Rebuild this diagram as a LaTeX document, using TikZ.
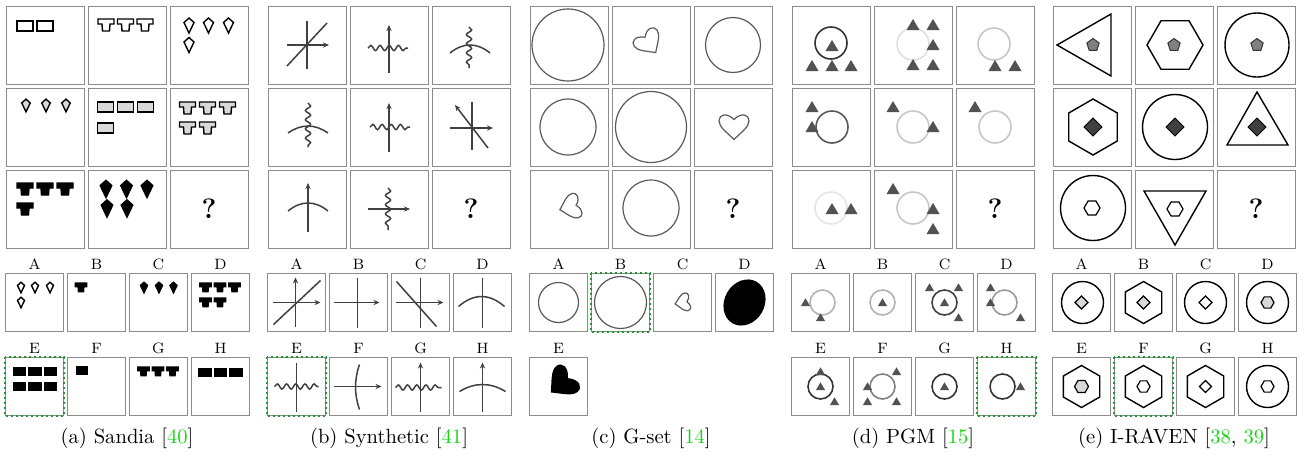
\documentclass[tikz,border=0pt]{standalone}
\usetikzlibrary{arrows.meta,decorations.pathmorphing}
\definecolor{hlgreen}{RGB}{30,150,50}
\definecolor{citegreen}{RGB}{20,215,20}
\definecolor{cellgray}{RGB}{140,140,140}
%% the little shapes, drawn with whatever the \pic is given
\tikzset{
	brick/.pic={\path[pic actions] (-8,-5) rectangle (8,5);},
	tee/.pic={\path[pic actions] (-8,0) -- (8,0) -- (8,5) -- (4,5) -- (3.5,12) -- (-3.5,12) -- (-4,5) -- (-8,5) -- cycle;},
	kite/.pic={\path[pic actions] (0,-7.5) -- (5,-3) -- (0,7.5) -- (-5,-3) -- cycle;},
	heart/.pic={\path[pic actions] (0,10) .. controls (-6,4) and (-12,0) .. (-12,-5) .. controls (-12,-10) and (-6,-12) .. (0,-6) .. controls (6,-12) and (12,-10) .. (12,-5) .. controls (12,0) and (6,4) .. (0,10) -- cycle;},
	tria/.pic={\path[pic actions] (0,-6) -- (6.5,5) -- (-6.5,5) -- cycle;},
	pent/.pic={\path[pic actions] (-90:1) -- (-18:1) -- (54:1) -- (126:1) -- (198:1) -- cycle;},
	hexf/.pic={\path[pic actions] (0:1) -- (60:1) -- (120:1) -- (180:1) -- (240:1) -- (300:1) -- cycle;},
	hexp/.pic={\path[pic actions] (30:1) -- (90:1) -- (150:1) -- (210:1) -- (270:1) -- (330:1) -- cycle;},
	diam/.pic={\path[pic actions] (0:1) -- (90:1) -- (180:1) -- (270:1) -- cycle;}
}
\begin{document}
\begin{tikzpicture}%
	[x=0.5pt, y=-0.5pt,
	cell/.style={draw=cellgray, line width=0.5pt, minimum width=39pt, minimum height=39pt, inner sep=0pt},
	ans/.style={cell, minimum width=29pt, minimum height=29pt},
	lab/.style={font=\fontsize{7.5}{9}\selectfont, inner sep=1.5pt},
	qmark/.style={font=\fontsize{14}{16}\selectfont\bfseries, inner sep=0pt},
	capt/.style={font=\fontsize{10.3}{12}\selectfont, inner sep=0pt},
	correct/.style={draw=hlgreen, line width=1.4pt, dash pattern=on 1.2pt off 1.3pt},
	openshape/.style={draw=black, fill=white, line width=0.7pt},
	greyshape/.style={draw=black, fill=black!15, line width=0.7pt},
	blackshape/.style={draw=black, fill=black, line width=0.7pt},
	sline/.style={draw=black!75, line width=0.75pt},
	arr/.style={sline, -{Stealth[length=3pt,width=2.6pt]}},
	wave/.style={sline, decorate, decoration={snake, segment length=4.6pt, amplitude=1.3pt}},
	gline/.style={draw=black!65, line width=0.6pt},
	ring/.style={line width=0.8pt},
	pgmtri/.style={fill=black!68},
	rframe/.style={draw=black, line width=0.7pt},
	pentshape/.style={draw=black!80, fill=black!50, line width=0.5pt},
	darkdiam/.style={draw=black, fill=black!75, line width=0.5pt},
	lightshape/.style={draw=black, fill=black!15, line width=0.6pt},
	whiteshape/.style={draw=black, fill=white, line width=0.6pt}]
%
\useasboundingbox (0,0) rectangle (1304,456);
%%
%% the 3x3 grids and the answer cells
%%
\foreach \p/\px in {a/5,b/267,c/529,d/791,e/1052}
	\foreach \r in {1,2,3}
		\foreach \c in {1,2,3}
			\node[cell] (\p\r\c) at ({\px+40+82*(\c-1)},{45+82*(\r-1)}) {};
\foreach \p/\px in {a/5,b/267,d/791,e/1052}
	\foreach \l/\c/\r in {A/0/0,B/1/0,C/2/0,D/3/0,E/0/1,F/1/1,G/2/1,H/3/1}
		\node[ans, label={[lab]above:\l}] (\p\l) at ({\px+29.5+62*\c},{302.5+84*\r}) {};
\foreach \l/\c/\r in {A/0/0,B/1/0,C/2/0,D/3/0,E/0/1}
	\node[ans, label={[lab]above:\l}] (c\l) at ({558.5+62*\c},{302.5+84*\r}) {};
\node[qmark] (aq) at (a33) {?};
\node[qmark] (bq) at (b33) {?};
\node[qmark] (cq) at (c33) {?};
\node[qmark] (dq) at (d33) {?};
\node[qmark] (eq) at (e33) {?};
%%
%% (a) Sandia
%%
\begin{scope}[shift={(a11.center)}]
\pic[openshape] at (-20,-19) {brick};
\pic[openshape] at (0,-19) {brick};
\end{scope}
\begin{scope}[shift={(a12.center)}]
\pic[openshape] at (-21,-26) {tee};
\pic[openshape] at (-1.5,-26) {tee};
\pic[openshape] at (18,-26) {tee};
\end{scope}
\begin{scope}[shift={(a13.center)}]
\pic[openshape] at (-20,-19.5) {kite};
\pic[openshape] at (-0.5,-19.5) {kite};
\pic[openshape] at (19.5,-19.5) {kite};
\pic[openshape] at (-20,0) {kite};
\end{scope}
\begin{scope}[shift={(a21.center)}]
\pic[greyshape, scale=.85] at (-19,-21.5) {kite};
\pic[greyshape, scale=.85] at (1,-21.5) {kite};
\pic[greyshape, scale=.85] at (21,-21.5) {kite};
\end{scope}
\begin{scope}[shift={(a22.center)}]
\pic[greyshape] at (-21.5,-20) {brick};
\pic[greyshape] at (-1.5,-20) {brick};
\pic[greyshape] at (18.5,-20) {brick};
\pic[greyshape] at (-21.5,1) {brick};
\end{scope}
\begin{scope}[shift={(a23.center)}]
\pic[greyshape] at (-21.5,-25) {tee};
\pic[greyshape] at (-1.5,-25) {tee};
\pic[greyshape] at (18.5,-25) {tee};
\pic[greyshape] at (-21.5,-5) {tee};
\pic[greyshape] at (-1.5,-5) {tee};
\end{scope}
\begin{scope}[shift={(a31.center)}]
\pic[blackshape] at (-20,-26) {tee};
\pic[blackshape] at (0,-26) {tee};
\pic[blackshape] at (20,-26) {tee};
\pic[blackshape] at (-20,-6) {tee};
\end{scope}
\begin{scope}[shift={(a32.center)}]
\pic[blackshape, scale=1.15] at (-21,-20) {kite};
\pic[blackshape, scale=1.15] at (-0.5,-20) {kite};
\pic[blackshape, scale=1.15] at (20,-20) {kite};
\pic[blackshape, scale=1.15] at (-20,-0.5) {kite};
\pic[blackshape, scale=1.15] at (0,-0.5) {kite};
\end{scope}
%% answers
\begin{scope}[shift={(aA.center)}]
\pic[openshape, scale=.7] at (-13.5,-15) {kite};
\pic[openshape, scale=.7] at (0.5,-15) {kite};
\pic[openshape, scale=.7] at (15.5,-15) {kite};
\pic[openshape, scale=.7] at (-13.5,0) {kite};
\end{scope}
\begin{scope}[shift={(aB.center)}]
\pic[blackshape, scale=.72] at (-15.5,-19.5) {tee};
\end{scope}
\begin{scope}[shift={(aC.center)}]
\pic[blackshape, scale=.7] at (-14.5,-15) {kite};
\pic[blackshape, scale=.7] at (0.5,-15) {kite};
\pic[blackshape, scale=.7] at (15,-15) {kite};
\end{scope}
\begin{scope}[shift={(aD.center)}]
\pic[blackshape, scale=.72] at (-15,-19.5) {tee};
\pic[blackshape, scale=.72] at (-0.5,-19.5) {tee};
\pic[blackshape, scale=.72] at (14,-19.5) {tee};
\pic[blackshape, scale=.72] at (-15,-4.5) {tee};
\pic[blackshape, scale=.72] at (-0.5,-4.5) {tee};
\end{scope}
\begin{scope}[shift={(aE.center)}]
\pic[blackshape, scale=.76] at (-15,-15.5) {brick};
\pic[blackshape, scale=.76] at (0.5,-15.5) {brick};
\pic[blackshape, scale=.76] at (16,-15.5) {brick};
\pic[blackshape, scale=.76] at (-15,0) {brick};
\pic[blackshape, scale=.76] at (0.5,0) {brick};
\pic[blackshape, scale=.76] at (16,0) {brick};
\end{scope}
\begin{scope}[shift={(aF.center)}]
\pic[blackshape, scale=.7] at (-14.5,-16) {brick};
\end{scope}
\begin{scope}[shift={(aG.center)}]
\pic[blackshape, scale=.72] at (-15,-19.5) {tee};
\pic[blackshape, scale=.72] at (-0.5,-19.5) {tee};
\pic[blackshape, scale=.72] at (14,-19.5) {tee};
\end{scope}
\begin{scope}[shift={(aH.center)}]
\pic[blackshape, scale=.78] at (-15.5,-14) {brick};
\pic[blackshape, scale=.78] at (0,-14) {brick};
\pic[blackshape, scale=.78] at (15.5,-14) {brick};
\end{scope}
%%
%% (b) Synthetic
%%
\begin{scope}[shift={(b11.center)}]
\draw[sline] (0,-24) -- (0,24);
\draw[arr] (-20,0) -- (22,0);
\draw[sline] (-20,21) -- (20,-22);
\end{scope}
\begin{scope}[shift={(b12.center)}]
\draw[arr] (0,28) -- (0,-20);
\draw[wave] (-21,3) -- (19,3);
\end{scope}
\begin{scope}[shift={(b13.center)}]
\draw[sline] (-21,8) .. controls (-7.7,-2.7) and (5.7,-2.7) .. (19,8);
\draw[wave] (-2,-18) -- (-2,23);
\end{scope}
\begin{scope}[shift={(b21.center)}]
\draw[wave] (1,-24) -- (1,20);
\draw[sline] (-19,6) .. controls (-5.7,-3.3) and (7.7,-3.3) .. (21,6);
\end{scope}
\begin{scope}[shift={(b22.center)}]
\draw[arr] (0,25) -- (0,-24);
\draw[wave] (-19,0) -- (21,0);
\end{scope}
\begin{scope}[shift={(b23.center)}]
\draw[sline] (1,-25) -- (1,23);
\draw[arr] (-21,1) -- (22,1);
\draw[arr] (17,21) -- (-16,-22);
\end{scope}
\begin{scope}[shift={(b31.center)}]
\draw[arr] (1,23) -- (1,-26);
\draw[sline] (-19,2) .. controls (-5.7,-8.7) and (7.7,-8.7) .. (21,2);
\end{scope}
\begin{scope}[shift={(b32.center)}]
\draw[wave] (-1,-21) -- (-1,21);
\draw[arr] (-21,0) -- (21,0);
\end{scope}
%% answers
\begin{scope}[shift={(bA.center)}]
\draw[arr] (-1,24) -- (-1,-25);
\draw[arr] (-24,0) -- (24,0);
\draw[sline] (-23,22) -- (24,-22);
\end{scope}
\begin{scope}[shift={(bB.center)}]
\draw[sline] (-1,-25) -- (-1,25);
\draw[arr] (-25,0) -- (21,0);
\end{scope}
\begin{scope}[shift={(bC.center)}]
\draw[sline] (0,-25) -- (0,25);
\draw[arr] (-25,0) -- (23,0);
\draw[sline] (-24,-21) -- (16,24);
\end{scope}
\begin{scope}[shift={(bD.center)}]
\draw[sline] (0,-25) -- (0,25);
\draw[sline] (-24,4) .. controls (-8.7,-9.3) and (6.7,-9.3) .. (22,4);
\end{scope}
\begin{scope}[shift={(bE.center)}]
\draw[sline] (0,-24) -- (0,25);
\draw[wave] (-22,0) -- (22,0);
\end{scope}
\begin{scope}[shift={(bF.center)}]
\draw[arr] (-25,0) -- (23,0);
\draw[sline] (1,-22) .. controls (-4.3,-7) and (-4.3,8) .. (1,23);
\end{scope}
\begin{scope}[shift={(bG.center)}]
\draw[arr] (0,25) -- (0,-24);
\draw[wave] (-25,1) -- (21,1);
\end{scope}
\begin{scope}[shift={(bH.center)}]
\draw[arr] (0,25) -- (0,-24);
\draw[sline] (-23,5) .. controls (-7.7,-4.3) and (7.7,-4.3) .. (23,5);
\end{scope}
%%
%% (c) G-set
%%
\begin{scope}[shift={(c11.center)}]
\draw[gline] (-1,0) circle [radius=36];
\end{scope}
\begin{scope}[shift={(c12.center)}]
\pic[gline, rotate=35, scale=1.17] at (-2,-2) {heart};
\end{scope}
\begin{scope}[shift={(c13.center)}]
\draw[gline] (0,0) circle [radius=27.5];
\end{scope}
\begin{scope}[shift={(c21.center)}]
\draw[gline] (-1,0) circle [radius=28];
\end{scope}
\begin{scope}[shift={(c22.center)}]
\draw[gline] (0,0) circle [radius=35.5];
\end{scope}
\begin{scope}[shift={(c23.center)}]
\pic[gline, scale=1.25] at (1,0) {heart};
\end{scope}
\begin{scope}[shift={(c31.center)}]
\pic[gline, rotate=-75, scale=1.05] at (1,-2) {heart};
\end{scope}
\begin{scope}[shift={(c32.center)}]
\draw[gline] (0,-1) circle [radius=28];
\end{scope}
%% answers
\begin{scope}[shift={(cA.center)}]
\draw[gline] (0,0) circle [radius=20];
\end{scope}
\begin{scope}[shift={(cB.center)}]
\draw[gline] (0,0) circle [radius=26];
\end{scope}
\begin{scope}[shift={(cC.center)}]
\pic[gline, rotate=-80, scale=.75] at (0,0) {heart};
\end{scope}
\begin{scope}[shift={(cD.center)}]
\fill[black, rotate=-30] (0,0) ellipse [x radius=20, y radius=24];
\end{scope}
\begin{scope}[shift={(cE.center)}]
\pic[fill=black, rotate=-50, scale=1.4] at (3,-3) {heart};
\end{scope}
%%
%% (d) PGM
%%
\begin{scope}[shift={(d11.center)}]
\draw[ring, black!80] (0,-2) circle [radius=16];
\pic[pgmtri] at (1,1) {tria};
\pic[pgmtri] at (-19,21) {tria};
\pic[pgmtri] at (1,21) {tria};
\pic[pgmtri] at (20,21) {tria};
\end{scope}
\begin{scope}[shift={(d12.center)}]
\draw[ring, black!12] (0,-1) circle [radius=16];
\pic[pgmtri] at (0,-20) {tria};
\pic[pgmtri] at (20,-20) {tria};
\pic[pgmtri] at (20,0) {tria};
\pic[pgmtri] at (0,20) {tria};
\pic[pgmtri] at (20,20) {tria};
\end{scope}
\begin{scope}[shift={(d13.center)}]
\draw[ring, black!22] (-1,-1) circle [radius=16];
\pic[pgmtri] at (0,21) {tria};
\pic[pgmtri] at (20,21) {tria};
\end{scope}
\begin{scope}[shift={(d21.center)}]
\draw[ring, black!65] (1,0) circle [radius=16];
\pic[pgmtri] at (-19,-20) {tria};
\pic[pgmtri] at (-19,0) {tria};
\end{scope}
\begin{scope}[shift={(d22.center)}]
\draw[ring, black!22] (0,0) circle [radius=16];
\pic[pgmtri] at (-20,-20) {tria};
\pic[pgmtri] at (20,0) {tria};
\end{scope}
\begin{scope}[shift={(d23.center)}]
\draw[ring, black!22] (0,0) circle [radius=16];
\pic[pgmtri] at (-20,-20) {tria};
\end{scope}
\begin{scope}[shift={(d31.center)}]
\draw[ring, black!10] (0,-1) circle [radius=16];
\pic[pgmtri] at (1,0) {tria};
\pic[pgmtri] at (20,0) {tria};
\end{scope}
\begin{scope}[shift={(d32.center)}]
\draw[ring, black!22] (0,-1) circle [radius=16];
\pic[pgmtri] at (-20,-20) {tria};
\pic[pgmtri] at (20,0) {tria};
\pic[pgmtri] at (20,20) {tria};
\end{scope}
%% answers
\begin{scope}[shift={(dA.center)}]
\draw[ring, black!30] (2,0) circle [radius=12.5];
\pic[pgmtri, scale=.7] at (-15,0) {tria};
\pic[pgmtri, scale=.7] at (0,15) {tria};
\end{scope}
\begin{scope}[shift={(dB.center)}]
\draw[ring, black!30] (0,0) circle [radius=12.5];
\pic[pgmtri, scale=.7] at (0,0) {tria};
\end{scope}
\begin{scope}[shift={(dC.center)}]
\draw[ring, black!75] (0,0) circle [radius=12.5];
\pic[pgmtri, scale=.7] at (-15,-15) {tria};
\pic[pgmtri, scale=.7] at (14,-15) {tria};
\pic[pgmtri, scale=.7] at (0,0) {tria};
\pic[pgmtri, scale=.7] at (14,15) {tria};
\end{scope}
\begin{scope}[shift={(dD.center)}]
\draw[ring, black!40] (-2,0) circle [radius=12.5];
\pic[pgmtri, scale=.7] at (-16,-15) {tria};
\pic[pgmtri, scale=.7] at (-16,0) {tria};
\pic[pgmtri, scale=.7] at (14,15) {tria};
\end{scope}
\begin{scope}[shift={(dE.center)}]
\draw[ring, black!80] (0,0) circle [radius=12.5];
\pic[pgmtri, scale=.7] at (0,-15) {tria};
\pic[pgmtri, scale=.7] at (0,0) {tria};
\pic[pgmtri, scale=.7] at (14,15) {tria};
\end{scope}
\begin{scope}[shift={(dF.center)}]
\draw[ring, black!50] (0,0) circle [radius=12.5];
\pic[pgmtri, scale=.7] at (14,-15) {tria};
\pic[pgmtri, scale=.7] at (-15,0) {tria};
\pic[pgmtri, scale=.7] at (-15,15) {tria};
\pic[pgmtri, scale=.7] at (14,15) {tria};
\end{scope}
\begin{scope}[shift={(dG.center)}]
\draw[ring, black!80] (0,0) circle [radius=12.5];
\pic[pgmtri, scale=.7] at (0,0) {tria};
\end{scope}
\begin{scope}[shift={(dH.center)}]
\draw[ring, black!80] (-4,0) circle [radius=12.5];
\pic[pgmtri, scale=.7] at (14,0) {tria};
\end{scope}
%%
%% (e) I-RAVEN
%%
\begin{scope}[shift={(e11.center)}]
\draw[rframe] (-35,0) -- (19,-31) -- (19,31) -- cycle;
\pic[pentshape, scale=6.5] at (1,0) {pent};
\end{scope}
\begin{scope}[shift={(e12.center)}]
\pic[rframe, scale=28] at (1,0) {hexf};
\pic[pentshape, scale=6.5] at (0,0) {pent};
\end{scope}
\begin{scope}[shift={(e13.center)}]
\draw[rframe] (1,0) circle [radius=32];
\pic[pentshape, scale=6.5] at (1,0) {pent};
\end{scope}
\begin{scope}[shift={(e21.center)}]
\pic[rframe, scale=28] at (1,0) {hexp};
\pic[darkdiam, scale=9] at (1,0) {diam};
\end{scope}
\begin{scope}[shift={(e22.center)}]
\draw[rframe] (1,0) circle [radius=32.5];
\pic[darkdiam, scale=9] at (1,0) {diam};
\end{scope}
\begin{scope}[shift={(e23.center)}]
\draw[rframe] (1,-35) -- (32,18) -- (-29,18) -- cycle;
\pic[darkdiam, scale=9] at (1,0) {diam};
\end{scope}
\begin{scope}[shift={(e31.center)}]
\draw[rframe] (1,-1) circle [radius=32.5];
\pic[whiteshape, scale=8] at (0,-1) {hexf};
\end{scope}
\begin{scope}[shift={(e32.center)}]
\draw[rframe] (-30,-18) -- (32,-18) -- (1,36) -- cycle;
\pic[whiteshape, scale=8] at (1,0) {hexf};
\end{scope}
%% answers
\begin{scope}[shift={(eA.center)}]
\draw[rframe] (1,0) circle [radius=21];
\pic[lightshape, scale=6.5] at (0,0) {diam};
\end{scope}
\begin{scope}[shift={(eB.center)}]
\pic[rframe, scale=21] at (0,0) {hexp};
\pic[lightshape, scale=6.5] at (0,0) {diam};
\end{scope}
\begin{scope}[shift={(eC.center)}]
\draw[rframe] (0,0) circle [radius=21];
\pic[whiteshape, scale=6.5] at (0,0) {diam};
\end{scope}
\begin{scope}[shift={(eD.center)}]
\draw[rframe] (0,0) circle [radius=21];
\pic[lightshape, scale=6.5] at (0,0) {hexf};
\end{scope}
\begin{scope}[shift={(eE.center)}]
\pic[rframe, scale=21] at (0,0) {hexp};
\pic[lightshape, scale=7] at (0,0) {hexf};
\end{scope}
\begin{scope}[shift={(eF.center)}]
\pic[rframe, scale=21] at (0,0) {hexp};
\pic[whiteshape, scale=6.5] at (0,0) {hexf};
\end{scope}
\begin{scope}[shift={(eG.center)}]
\pic[rframe, scale=21] at (0,0) {hexp};
\pic[whiteshape, scale=6] at (0,0) {diam};
\end{scope}
\begin{scope}[shift={(eH.center)}]
\draw[rframe] (0,0) circle [radius=21];
\pic[whiteshape, scale=6.5] at (0,0) {hexf};
\end{scope}
%%
%% correct answers
%%
\draw[correct] (aE.north west) rectangle (aE.south east);
\draw[correct] (bE.north west) rectangle (bE.south east);
\draw[correct] (cB.north west) rectangle (cB.south east);
\draw[correct] (dH.north west) rectangle (dH.south east);
\draw[correct] (eF.north west) rectangle (eF.south east);
%%
%% captions
%%
\node[capt] (acap) at (127,438) {(a) Sandia [\textcolor{citegreen}{40}]};
\node[capt] (bcap) at (389,438) {(b) Synthetic [\textcolor{citegreen}{41}]};
\node[capt] (ccap) at (651,438) {(c) G-set [\textcolor{citegreen}{14}]};
\node[capt] (dcap) at (913,438) {(d) PGM [\textcolor{citegreen}{15}]};
\node[capt] (ecap) at (1174,438) {(e) I-RAVEN [\textcolor{citegreen}{38}, \textcolor{citegreen}{39}]};
\end{tikzpicture}
\end{document}
